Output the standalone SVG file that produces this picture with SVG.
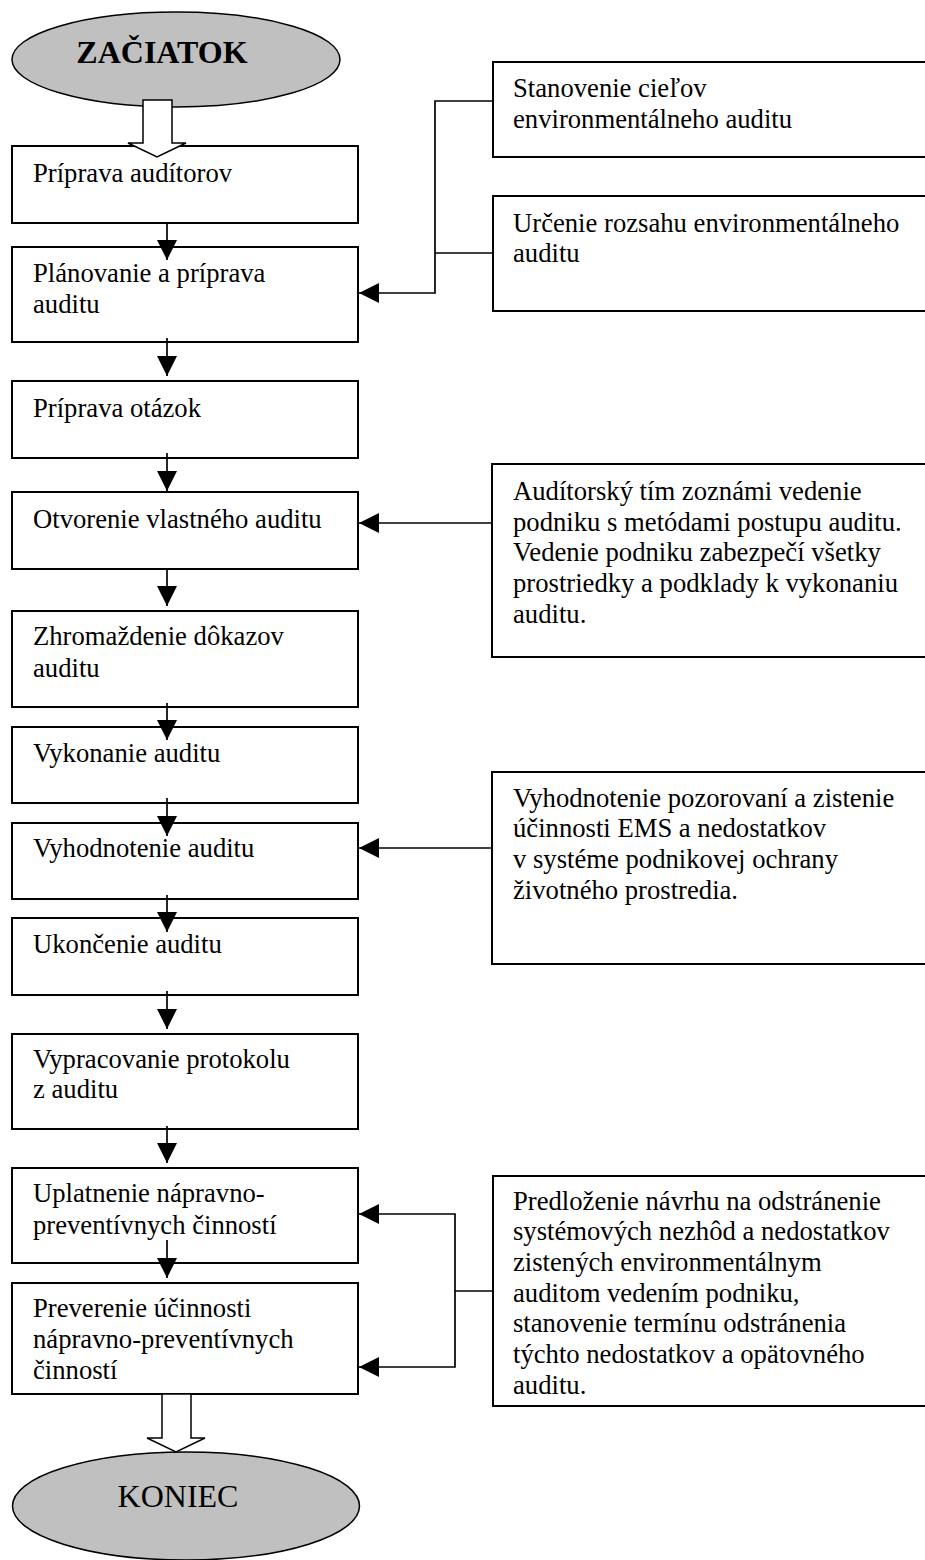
<svg xmlns="http://www.w3.org/2000/svg" width="925" height="1560" viewBox="0 0 925 1560">
<style>
.box{fill:#fff;stroke:#000;stroke-width:2}
.term{fill:#c0c0c0;stroke:#000;stroke-width:1.5}
.t{font-family:"Liberation Serif","Times New Roman",serif;font-size:26.67px;fill:#000}
.tt{font-family:"Liberation Serif","Times New Roman",serif;font-size:32px;fill:#000}
.c{fill:none;stroke:#000;stroke-width:1.7}
.hollow{fill:#fff;stroke:#000;stroke-width:1.5}
</style>
<defs>
<marker id="ah" markerUnits="userSpaceOnUse" markerWidth="20" markerHeight="20" refX="20" refY="10" orient="auto" viewBox="0 0 20 20">
<path d="M0,0 L20,10 L0,20 z" fill="#000"/>
</marker>
</defs>
<rect width="925" height="1560" fill="#fff"/>

<g id="start">
<ellipse class="term" cx="176" cy="59.5" rx="164" ry="47.5"/>
<text class="tt" x="162" y="63" text-anchor="middle" font-weight="bold">ZAČIATOK</text>
</g>

<g id="n1"><rect class="box" x="12" y="146" width="346" height="77"/>
<text class="t" x="33" y="182">Príprava audítorov</text></g>

<g id="n2"><rect class="box" x="12" y="247" width="346" height="95"/>
<text class="t" x="33" y="282">Plánovanie a príprava</text>
<text class="t" x="33" y="313">auditu</text></g>

<g id="n3"><rect class="box" x="12" y="381" width="346" height="77"/>
<text class="t" x="33" y="417">Príprava otázok</text></g>

<g id="n4"><rect class="box" x="12" y="492" width="346" height="77"/>
<text class="t" x="33" y="528">Otvorenie vlastného auditu</text></g>

<g id="n5"><rect class="box" x="12" y="611" width="346" height="96"/>
<text class="t" x="33" y="645">Zhromaždenie dôkazov</text>
<text class="t" x="33" y="677">auditu</text></g>

<g id="n6"><rect class="box" x="12" y="727" width="346" height="76"/>
<text class="t" x="33" y="762">Vykonanie auditu</text></g>

<g id="n7"><rect class="box" x="12" y="823" width="346" height="76"/>
<text class="t" x="33" y="857">Vyhodnotenie auditu</text></g>

<g id="n8"><rect class="box" x="12" y="918" width="346" height="77"/>
<text class="t" x="33" y="953">Ukončenie auditu</text></g>

<g id="n9"><rect class="box" x="12" y="1034" width="346" height="95"/>
<text class="t" x="33" y="1068">Vypracovanie protokolu</text>
<text class="t" x="33" y="1098">z auditu</text></g>

<g id="n10"><rect class="box" x="12" y="1168" width="346" height="95"/>
<text class="t" x="33" y="1202">Uplatnenie nápravno-</text>
<text class="t" x="33" y="1234">preventívnych činností</text></g>

<g id="n11"><rect class="box" x="12" y="1283" width="346" height="111"/>
<text class="t" x="33" y="1317">Preverenie účinnosti</text>
<text class="t" x="33" y="1348">nápravno-preventívnych</text>
<text class="t" x="33" y="1379">činností</text></g>

<g id="r1"><rect class="box" x="493" y="62" width="445" height="95"/>
<text class="t" x="513" y="97">Stanovenie cieľov</text>
<text class="t" x="513" y="128">environmentálneho auditu</text></g>

<g id="r2"><rect class="box" x="493" y="196" width="445" height="115"/>
<text class="t" x="513" y="232">Určenie rozsahu environmentálneho</text>
<text class="t" x="513" y="262">auditu</text></g>

<g id="r3"><rect class="box" x="492" y="464" width="445" height="193"/>
<text class="t" x="513" y="500">Audítorský tím zoznámi vedenie</text>
<text class="t" x="513" y="531">podniku s metódami postupu auditu.</text>
<text class="t" x="513" y="561">Vedenie podniku zabezpečí všetky</text>
<text class="t" x="513" y="592">prostriedky a podklady k vykonaniu</text>
<text class="t" x="513" y="623">auditu.</text></g>

<g id="r4"><rect class="box" x="492" y="772" width="445" height="192"/>
<text class="t" x="513" y="807">Vyhodnotenie pozorovaní a zistenie</text>
<text class="t" x="513" y="837">účinnosti EMS a nedostatkov</text>
<text class="t" x="513" y="868">v systéme podnikovej ochrany</text>
<text class="t" x="513" y="899">životného prostredia.</text></g>

<g id="r5"><rect class="box" x="493" y="1176" width="445" height="230"/>
<text class="t" x="513" y="1210">Predloženie návrhu na odstránenie</text>
<text class="t" x="513" y="1240">systémových nezhôd a nedostatkov</text>
<text class="t" x="513" y="1271">zistených environmentálnym</text>
<text class="t" x="513" y="1302">auditom vedením podniku,</text>
<text class="t" x="513" y="1332">stanovenie termínu odstránenia</text>
<text class="t" x="513" y="1363">týchto nedostatkov a opätovného</text>
<text class="t" x="513" y="1394">auditu.</text></g>

<g id="end">
<ellipse class="term" cx="186" cy="1506" rx="173.5" ry="54"/>
<text class="tt" x="178" y="1507" text-anchor="middle">KONIEC</text>
</g>

<g id="connectors">
<path class="hollow" d="M143,100 H172 V143 H186 L157,157 L128,143 H143 Z"/>
<path class="hollow" d="M162,1394 H191 V1438 H205 L176,1452 L147,1438 H162 Z"/>
<path class="c" marker-end="url(#ah)" d="M167,223 V260"/>
<path class="c" marker-end="url(#ah)" d="M167,338 V376"/>
<path class="c" marker-end="url(#ah)" d="M167,453 V491"/>
<path class="c" marker-end="url(#ah)" d="M167,569 V606"/>
<path class="c" marker-end="url(#ah)" d="M167,703 V740"/>
<path class="c" marker-end="url(#ah)" d="M167,798 V836"/>
<path class="c" marker-end="url(#ah)" d="M167,895 V932"/>
<path class="c" marker-end="url(#ah)" d="M167,991 V1029"/>
<path class="c" marker-end="url(#ah)" d="M167,1126 V1163"/>
<path class="c" marker-end="url(#ah)" d="M167,1240 V1278"/>
<path class="c" marker-end="url(#ah)" d="M493,101 H435 V293 H359"/>
<path class="c" d="M435,253 H493"/>
<path class="c" marker-end="url(#ah)" d="M492,523 H359"/>
<path class="c" marker-end="url(#ah)" d="M492,848 H359"/>
<path class="c" d="M493,1291 H455"/>
<path class="c" marker-end="url(#ah)" d="M455,1291 V1214 H359"/>
<path class="c" marker-end="url(#ah)" d="M455,1291 V1367 H359"/>
</g>
</svg>
